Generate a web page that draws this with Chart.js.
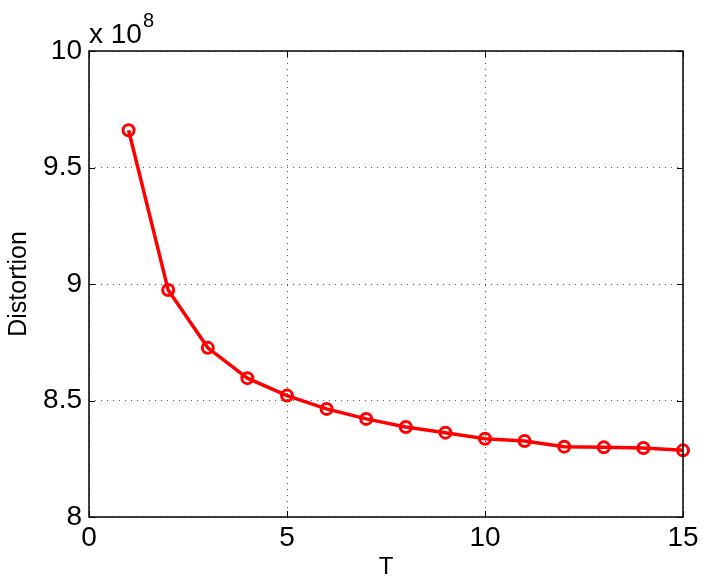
<!DOCTYPE html>
<html>
<head>
<meta charset="utf-8">
<script src="https://cdn.jsdelivr.net/npm/chart.js@4"></script>
<style>
  body { margin: 0; background: #fff; }
  canvas { display: block; }
</style>
</head>
<body>
<canvas id="myChart" width="706" height="582"></canvas>
<script>
// T values on the x axis
const tValues = [1, 2, 3, 4, 5, 6, 7, 8, 9, 10, 11, 12, 13, 14, 15];
// distortion, in units of 10^8
const distortion = [9.66, 8.974, 8.726, 8.596, 8.521, 8.464, 8.421, 8.386, 8.362, 8.336, 8.326, 8.302, 8.299, 8.296, 8.286];
const yExponent = 8;
const xTicks = [0, 5, 10, 15];
const yTicks = [8, 8.5, 9, 9.5, 10];

const points = tValues.map((t, i) => ({ x: t, y: distortion[i] }));

const fontName = '"Liberation Sans", Arial, Helvetica, sans-serif';

// box round the plot, ticks pointing inward, and the "x 10^8" note
const matlabFrame = {
  id: 'matlabFrame',
  afterDraw(chart) {
    const ctx = chart.ctx;
    const a = chart.chartArea;
    const xs = chart.scales.x;
    const ys = chart.scales.y;
    const tl = 6;
    ctx.save();
    ctx.strokeStyle = '#000';
    ctx.lineWidth = 1;
    ctx.beginPath();
    xTicks.forEach(v => {
      const px = Math.round(xs.getPixelForValue(v)) + 0.5;
      ctx.moveTo(px, a.bottom); ctx.lineTo(px, a.bottom - tl);
      ctx.moveTo(px, a.top); ctx.lineTo(px, a.top + tl);
    });
    yTicks.forEach(v => {
      const py = Math.round(ys.getPixelForValue(v)) + 0.5;
      ctx.moveTo(a.left, py); ctx.lineTo(a.left + tl, py);
      ctx.moveTo(a.right, py); ctx.lineTo(a.right - tl, py);
    });
    ctx.stroke();
    ctx.lineWidth = 1.5;
    ctx.strokeRect(a.left, a.top, a.right - a.left, a.bottom - a.top);

    ctx.fillStyle = '#000';
    ctx.textBaseline = 'alphabetic';
    ctx.textAlign = 'left';
    ctx.font = '28px ' + fontName;
    const base = a.top - 8;
    ctx.fillText('x 10', a.left, base);
    const w = ctx.measureText('x 10').width;
    ctx.font = '20px ' + fontName;
    ctx.fillText(String(yExponent), a.left + w + 1, base - 16);
    ctx.restore();
  }
};

const config = {
  type: 'line',
  data: {
    datasets: [{
      label: 'Distortion',
      data: points,
      borderColor: 'rgb(255, 0, 0)',
      backgroundColor: 'rgba(0, 0, 0, 0)',
      borderWidth: 3.5,
      pointRadius: 5.5,
      pointBorderWidth: 3,
      pointBorderColor: 'rgb(255, 0, 0)',
      pointBackgroundColor: 'rgba(0, 0, 0, 0)',
      tension: 0,
      clip: false
    }]
  },
  options: {
    responsive: false,
    animation: false,
    layout: { padding: { left: 0, right: 23, top: 51, bottom: 0 } },
    plugins: {
      legend: { display: false },
      tooltip: { enabled: false }
    },
    scales: {
      x: {
        type: 'linear',
        min: 0,
        max: 15,
        afterBuildTicks: s => { s.ticks = xTicks.map(v => ({ value: v })); },
        afterFit: s => { s.height = 65; },
        ticks: {
          color: '#000',
          font: { family: fontName, size: 28 },
          padding: 4,
          maxRotation: 0,
          callback: v => String(v)
        },
        grid: {
          color: '#555',
          lineWidth: 1,
          drawTicks: false
        },
        border: { display: false, dash: [1, 5] },
        title: {
          display: true,
          text: 'T',
          color: '#000',
          font: { family: fontName, size: 24 },
          padding: { top: 0, bottom: 0 }
        }
      },
      y: {
        type: 'linear',
        min: 8,
        max: 10,
        afterBuildTicks: s => { s.ticks = yTicks.map(v => ({ value: v })); },
        afterFit: s => { s.width = 89; },
        ticks: {
          color: '#000',
          font: { family: fontName, size: 28 },
          padding: 7,
          callback: v => String(v)
        },
        grid: {
          color: '#555',
          lineWidth: 1,
          drawTicks: false
        },
        border: { display: false, dash: [1, 5] },
        title: {
          display: true,
          text: 'Distortion',
          color: '#000',
          font: { family: fontName, size: 25 },
          padding: { top: 4, bottom: 0 }
        }
      }
    }
  },
  plugins: [matlabFrame]
};

const myChart = new Chart(document.getElementById('myChart'), config);
</script>
</body>
</html>
